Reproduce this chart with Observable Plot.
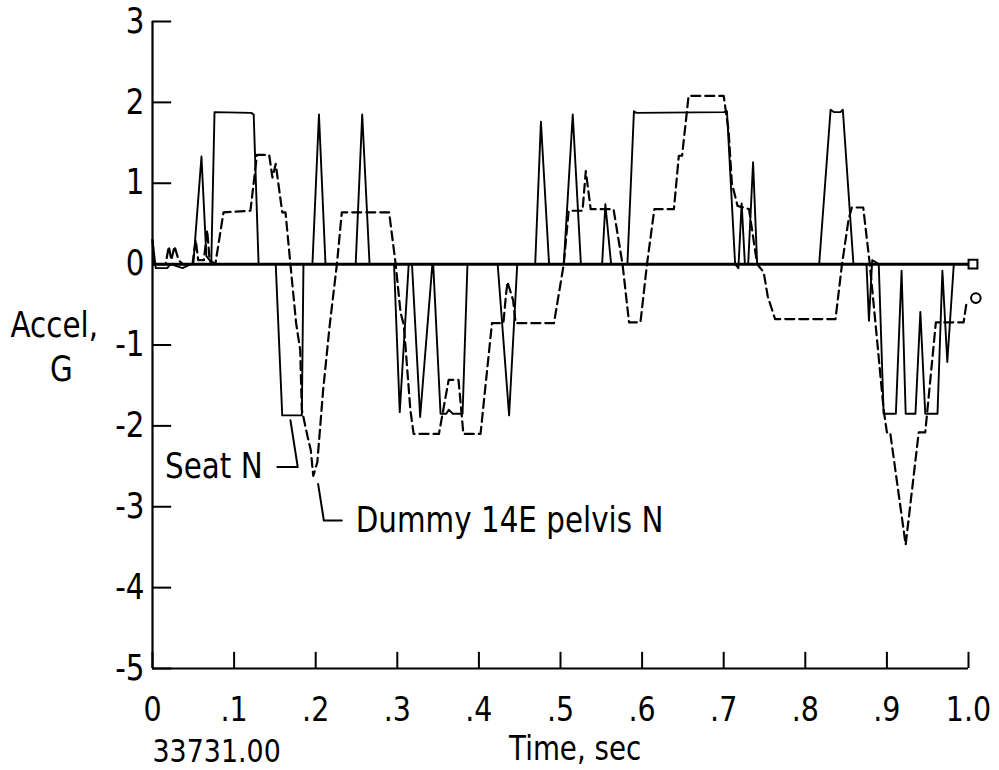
<!DOCTYPE html>
<html>
<head>
<meta charset="utf-8">
<script src="https://cdn.jsdelivr.net/npm/d3@7"></script>
<script src="https://cdn.jsdelivr.net/npm/@observablehq/plot@0.6"></script>
<style>
  html, body { margin: 0; padding: 0; background: #fff; }
  svg { display: block; }
</style>
</head>
<body>
<div id="chart"></div>
<script>
// Seat N (solid)
const seatT = [0.000,0.004,0.018,0.022,0.037,0.047,0.050,0.060,0.066,0.070,0.072,0.076,0.121,0.124,0.130,
  0.151,0.159,0.183,0.185,0.196,0.204,0.212,0.249,0.257,0.266,0.296,0.303,0.314,0.318,0.328,0.343,0.344,
  0.353,0.360,0.363,0.368,0.380,0.386,0.423,0.437,0.447,0.469,0.476,0.486,0.504,0.515,0.525,0.551,0.555,
  0.562,0.582,0.590,0.593,0.700,0.704,0.714,0.718,0.722,0.726,0.730,0.736,0.741,0.817,0.831,0.835,0.843,
  0.846,0.859,0.875,0.878,0.882,0.890,0.896,0.911,0.918,0.923,0.935,0.941,0.947,0.962,0.968,0.974,0.982,1.000];
const seatV = [0.3,-0.05,-0.05,0,-0.05,0,0,1.33,0.1,0.05,0,1.88,1.87,1.85,0,
  0,-1.87,-1.87,0,0,1.85,0,0,1.85,0,0,-1.83,0,0,-1.89,0,0,
  -1.85,-1.85,-1.8,-1.85,-1.85,0,0,-1.87,0,0,1.76,0,0,1.85,0,0,0.74,
  0,0,1.89,1.87,1.88,1.89,0,-0.05,0.75,0,0,1.26,0,0,1.91,1.88,1.88,
  1.91,0,0,-0.7,0.05,0,-1.85,-1.85,-0.08,-1.85,-1.85,-0.59,-1.85,-1.85,-0.08,-1.21,0,0];

// Dummy 14E pelvis N (dashed)
const dummyT = [0.000,0.002,0.016,0.020,0.023,0.027,0.032,0.037,0.049,0.053,0.056,0.063,0.067,0.070,0.077,
  0.087,0.120,0.128,0.143,0.147,0.151,0.159,0.163,0.169,0.176,0.181,0.183,0.190,0.194,0.197,0.202,0.209,
  0.217,0.226,0.232,0.290,0.298,0.304,0.308,0.316,0.320,0.351,0.363,0.375,0.381,0.402,0.416,0.430,0.433,
  0.435,0.439,0.442,0.445,0.492,0.504,0.510,0.527,0.531,0.537,0.565,0.576,0.584,0.598,0.606,0.615,0.639,
  0.645,0.649,0.657,0.700,0.706,0.710,0.717,0.731,0.741,0.749,0.754,0.763,0.837,0.845,0.853,0.857,0.871,
  0.879,0.886,0.896,0.900,0.904,0.923,0.939,0.947,0.960,0.994,0.998];
const dummyV = [0.3,0,0,0.22,0.05,0.22,0.05,0,0,0.3,0.05,0.05,0.42,0.05,0,
  0.64,0.66,1.35,1.35,1.07,1.24,0.64,0.64,0,-0.73,-1.06,-1.8,-2.13,-2.3,-2.62,-2.45,-1.57,
  -0.77,0,0.64,0.64,0,-0.6,-0.75,-1.8,-2.1,-2.1,-1.43,-1.43,-2.1,-2.1,-0.73,-0.73,-0.4,
  -0.22,-0.35,-0.45,-0.73,-0.73,0,0.66,0.66,1.15,0.68,0.68,0,-0.72,-0.72,0,0.68,0.68,
  1.34,1.34,2.08,2.08,1.65,1.0,0.72,0.68,0,-0.1,-0.4,-0.68,-0.68,0,0.55,0.7,0.7,
  0,-0.73,-1.8,-2.08,-2.08,-3.47,-2.08,-2.08,-0.72,-0.72,-0.45];

// Axis ticks and labels
const xTicks = [0,0.1,0.2,0.3,0.4,0.5,0.6,0.7,0.8,0.9,1.0];
const xTickLabels = ["0",".1",".2",".3",".4",".5",".6",".7",".8",".9","1.0"];
const yTicks = [3,2,1,0,-1,-2,-3,-4,-5];
const yTickLabels = ["3","2","1","0","-1","-2","-3","-4","-5"];

// End markers
const seatEnd = [{t: 1.0055, v: 0}];
const dummyEnd = [{t: 1.009, v: -0.42}];

// Label leaders (data units)
const seatLeaderT = [0.153, 0.178, 0.169];
const seatLeaderV = [-2.51, -2.51, -1.93];
const dummyLeaderT = [0.203, 0.210, 0.232];
const dummyLeaderV = [-2.72, -3.17, -3.17];

const seat = seatT.map((t, i) => ({t, v: seatV[i]}));
const dummy = dummyT.map((t, i) => ({t, v: dummyV[i]}));
const seatLeader = seatLeaderT.map((t, i) => ({t, v: seatLeaderV[i]}));
const dummyLeader = dummyLeaderT.map((t, i) => ({t, v: dummyLeaderV[i]}));

const FONT = "'DejaVu Sans', sans-serif";
const FS = 35;

const chart = Plot.plot({
  width: 999,
  height: 770,
  marginLeft: 152,
  marginRight: 31,
  marginTop: 21,
  marginBottom: 102,
  x: {domain: [0, 1], axis: null},
  y: {domain: [-5, 3], axis: null},
  style: {fontFamily: FONT, background: "#fff", color: "#000", overflow: "visible"},
  marks: [
    // axis lines
    Plot.ruleX([0], {y1: -5, y2: 3, stroke: "black", strokeWidth: 2.2}),
    Plot.ruleY([-5], {x1: 0, x2: 1, stroke: "black", strokeWidth: 2.2}),
    // inward ticks
    Plot.ruleY(yTicks, {y: d => d, x1: 0, x2: 0.0235, stroke: "black", strokeWidth: 2}),
    Plot.ruleX(xTicks, {x: d => d, y1: -5, y2: -4.8, stroke: "black", strokeWidth: 2}),
    // tick labels
    Plot.text(yTicks, {x: 0, y: d => d, text: (d, i) => yTickLabels[i], dx: -8, textAnchor: "end", fontSize: FS, fill: "black", letterSpacing: 1}),
    Plot.text(xTicks, {x: d => d, y: -5, text: (d, i) => xTickLabels[i], dy: 42, fontSize: FS - 1, fill: "black", letterSpacing: 2}),
    // axis titles
    Plot.text(["Accel,"], {x: 0, y: -0.76, dx: -142, textAnchor: "start", fontSize: FS, fill: "black", letterSpacing: 3}),
    Plot.text(["G"], {x: 0, y: -1.31, dx: -91, textAnchor: "middle", fontSize: FS, fill: "black"}),
    Plot.text(["Time, sec"], {x: 0.518, y: -5, dy: 81, fontSize: FS - 2, fill: "black", letterSpacing: 3.2}),
    Plot.text(["33731.00"], {x: 0, y: -5, dy: 83, textAnchor: "start", fontSize: FS - 3, fill: "black", letterSpacing: 5.5}),
    // zero line
    Plot.ruleY([0], {x1: 0, x2: 1.0, stroke: "black", strokeWidth: 3}),
    // series
    Plot.line(dummy, {x: "t", y: "v", stroke: "black", strokeWidth: 2.2, strokeDasharray: "9,5"}),
    Plot.line(seat, {x: "t", y: "v", stroke: "black", strokeWidth: 1.9}),
    // end markers
    Plot.dot(seatEnd, {x: "t", y: "v", symbol: "square", r: 5, fill: "white", stroke: "black", strokeWidth: 2}),
    Plot.dot(dummyEnd, {x: "t", y: "v", symbol: "circle", r: 4.8, fill: "white", stroke: "black", strokeWidth: 2}),
    // labels with leaders
    Plot.line(seatLeader, {x: "t", y: "v", stroke: "black", strokeWidth: 2}),
    Plot.line(dummyLeader, {x: "t", y: "v", stroke: "black", strokeWidth: 2}),
    Plot.text(["Seat N"], {x: 0.135, y: -2.51, textAnchor: "end", fontSize: FS, fill: "black", letterSpacing: 2.5}),
    Plot.text(["Dummy 14E pelvis N"], {x: 0.249, y: -3.17, textAnchor: "start", fontSize: FS, fill: "black", letterSpacing: 3})
  ]
});

// Condense the lettering horizontally, like the original condensed typeface
chart.querySelectorAll("text").forEach(t => {
  const tr = t.getAttribute("transform") || "";
  t.setAttribute("transform", `${tr} scale(0.84,1)`);
});

document.getElementById("chart").appendChild(chart);
</script>
</body>
</html>
